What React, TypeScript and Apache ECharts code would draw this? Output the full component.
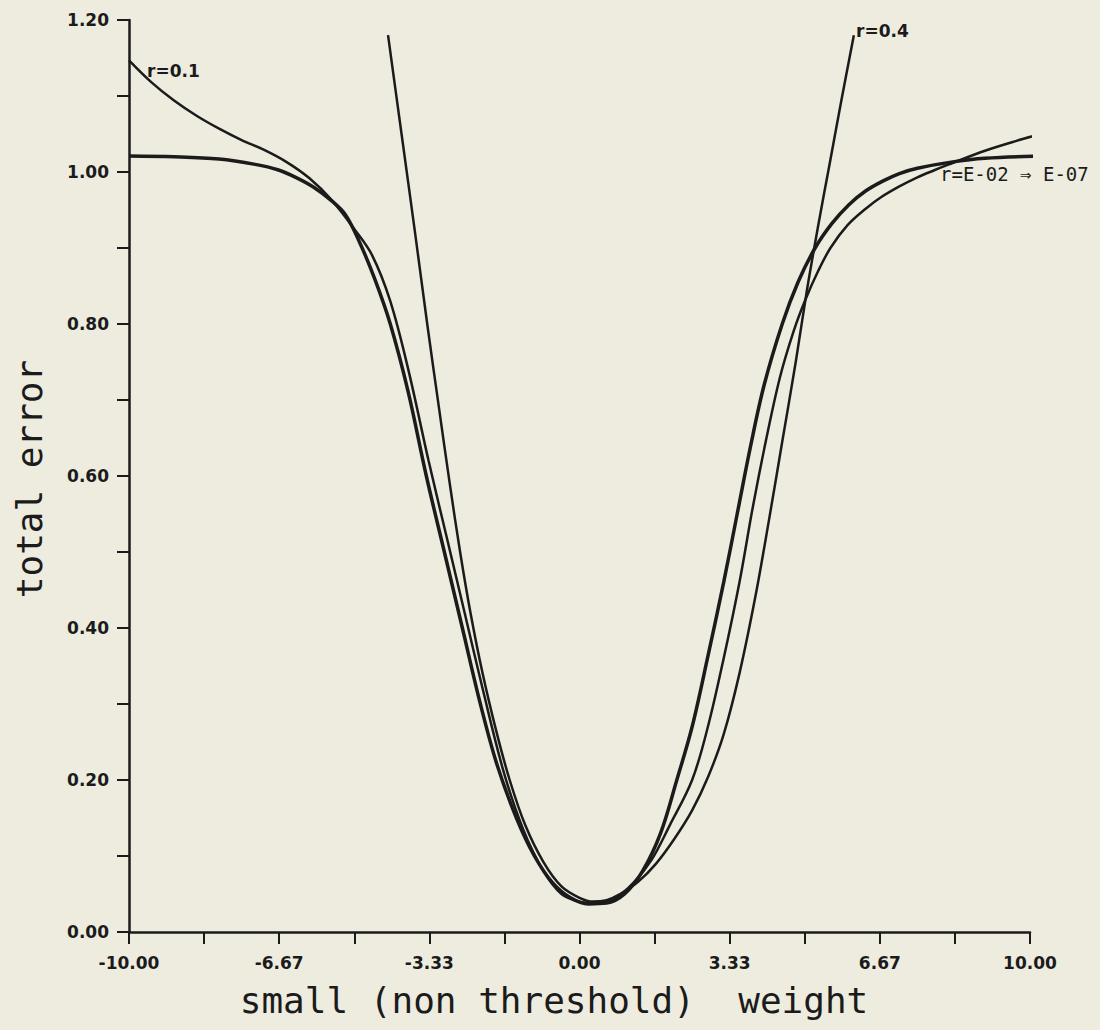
import React, { useEffect, useRef } from "react";
import * as echarts from "echarts";

// r = E-02 => E-07 (thick, overlapping curves)
const wThick = [-10, -9, -8, -7.2, -6.7, -6.3, -5.9, -5.5, -5.2, -4.9, -4.55, -4.2, -3.8, -3.4, -3.0, -2.6, -2.2, -1.83, -1.4, -1.0, -0.6, -0.2, 0.2, 0.6, 1.0, 1.4, 1.8, 2.16, 2.5, 2.84, 3.2, 3.5, 3.8, 4.1, 4.5, 4.85, 5.23, 5.6, 5.98, 6.35, 6.73, 7.1, 7.5, 8.25, 9.0, 10.3];
const eThick = [1.021, 1.02, 1.017, 1.01, 1.003, 0.993, 0.98, 0.962, 0.944, 0.91, 0.86, 0.8, 0.71, 0.6, 0.5, 0.4, 0.3, 0.22, 0.15, 0.1, 0.065, 0.045, 0.037, 0.038, 0.05, 0.08, 0.13, 0.2, 0.27, 0.36, 0.46, 0.55, 0.64, 0.72, 0.8, 0.855, 0.9, 0.932, 0.957, 0.975, 0.988, 0.998, 1.005, 1.013, 1.018, 1.021];

// r = 0.1
const wR01 = [-10, -9.5, -9, -8.5, -8, -7.5, -7, -6.5, -6, -5.5, -5.0, -4.6, -4.2, -3.8, -3.35, -2.95, -2.55, -2.15, -1.68, -1.25, -0.8, -0.4, 0, 0.4, 0.8, 1.2, 1.6, 2.0, 2.5, 2.85, 3.2, 3.55, 3.85, 4.15, 4.45, 4.75, 5.0, 5.3, 5.57, 5.95, 6.36, 6.7, 7.1, 7.5, 7.86, 8.2, 9.0, 9.7, 10.3];
const eR01 = [1.147, 1.118, 1.094, 1.074, 1.057, 1.042, 1.029, 1.013, 0.992, 0.963, 0.925, 0.89, 0.83, 0.74, 0.62, 0.52, 0.42, 0.32, 0.21, 0.135, 0.08, 0.05, 0.04, 0.038, 0.045, 0.065, 0.095, 0.14, 0.2, 0.27, 0.36, 0.46, 0.56, 0.65, 0.73, 0.79, 0.83, 0.87, 0.9, 0.93, 0.952, 0.967, 0.981, 0.993, 1.002, 1.01, 1.028, 1.041, 1.051];

// r = 0.4
const wR04 = [-4.25, -3.95, -3.65, -3.38, -3.12, -2.88, -2.65, -2.42, -2.15, -1.85, -1.55, -1.2, -0.8, -0.4, 0, 0.3, 0.6, 0.9, 1.3, 1.7, 2.1, 2.5, 2.86, 3.2, 3.55, 3.9, 4.2, 4.5, 4.8, 5.05, 5.3, 5.55, 5.8, 6.09];
const eR04 = [1.18, 1.05, 0.92, 0.8, 0.69, 0.59, 0.5, 0.42, 0.34, 0.265, 0.2, 0.14, 0.092, 0.06, 0.045, 0.04, 0.042, 0.05, 0.066, 0.09, 0.122, 0.16, 0.205, 0.26, 0.34, 0.44, 0.54, 0.645, 0.75, 0.845, 0.93, 1.01, 1.09, 1.18];

const X_MIN = -10;
const X_MAX = 10;
const X_STEP = 20 / 12;
const Y_MIN = 0;
const Y_MAX = 1.2;
const Y_STEP = 0.1;

const X_NAME = "small (non threshold)  weight";
const Y_NAME = "total error";

const INK = "#1b1b1b";
const PAPER = "#edecdf";

const pairs = (ws: number[], es: number[]) => ws.map((w, i) => [w, es[i]]);

export default function App() {
  const ref = useRef<HTMLDivElement>(null);
  useEffect(() => {
    const chart = echarts.init(ref.current!, null, { renderer: "svg" });
    const lineSeries = (name: string, ws: number[], es: number[], width: number) => ({
      name,
      type: "line",
      data: pairs(ws, es),
      showSymbol: false,
      smooth: 0.35,
      clip: false,
      lineStyle: { color: INK, width },
      z: 3,
    });
    chart.setOption({
      animation: false,
      backgroundColor: PAPER,
      grid: { left: 129, right: 70, top: 20, bottom: 98, containLabel: false },
      xAxis: {
        type: "value",
        min: X_MIN,
        max: X_MAX,
        interval: X_STEP,
        axisLine: { onZero: false, lineStyle: { color: INK, width: 2.5 } },
        axisTick: { show: true, length: 12, lineStyle: { color: INK, width: 2 } },
        axisLabel: {
          margin: 22,
          color: INK,
          fontFamily: "DejaVu Sans",
          fontWeight: "bold",
          fontSize: 17,
          showMinLabel: true,
          showMaxLabel: true,
          formatter: (v: number, i: number) => {
            if (i % 2 !== 0) return "";
            const r = Math.abs(v) < 1e-6 ? 0 : v;
            return r.toFixed(2);
          },
        },
        splitLine: { show: false },
      },
      yAxis: {
        type: "value",
        min: Y_MIN,
        max: Y_MAX,
        interval: Y_STEP,
        axisLine: { show: true, onZero: false, lineStyle: { color: INK, width: 2.5 } },
        axisTick: { show: true, length: 12, lineStyle: { color: INK, width: 2 } },
        axisLabel: {
          margin: 20,
          color: INK,
          fontFamily: "DejaVu Sans",
          fontWeight: "bold",
          fontSize: 17,
          formatter: (v: number) => {
            const k = Math.round(v * 10);
            return k % 2 === 0 ? v.toFixed(2) : "";
          },
        },
        splitLine: { show: false },
      },
      graphic: [
        {
          type: "text",
          x: 554,
          y: 1000,
          style: {
            text: X_NAME,
            fill: INK,
            font: '36px "DejaVu Sans Mono"',
            align: "center",
            verticalAlign: "middle",
          },
        },
        {
          type: "text",
          x: 29,
          y: 479,
          rotation: Math.PI / 2,
          style: {
            text: Y_NAME,
            fill: INK,
            font: '36px "DejaVu Sans Mono"',
            align: "center",
            verticalAlign: "middle",
          },
        },
        {
          type: "text",
          left: 147,
          top: 62,
          style: { text: "r=0.1", fill: INK, font: 'bold 17px "DejaVu Sans"' },
        },
        {
          type: "text",
          left: 856,
          top: 22,
          style: { text: "r=0.4", fill: INK, font: 'bold 17px "DejaVu Sans"' },
        },
        {
          type: "text",
          left: 940,
          top: 164,
          style: { text: "r=E-02 ⇒ E-07", fill: INK, font: '19px "DejaVu Sans Mono"' },
        },
      ],
      series: [
        lineSeries("r=E-02 => E-07", wThick, eThick, 3.5),
        lineSeries("r=0.1", wR01, eR01, 2.5),
        lineSeries("r=0.4", wR04, eR04, 2.5),
      ],
    });
    return () => chart.dispose();
  }, []);
  return (
    <div
      ref={ref}
      style={{ position: "fixed", left: 0, top: 0, width: 1100, height: 1030 }}
    />
  );
}
